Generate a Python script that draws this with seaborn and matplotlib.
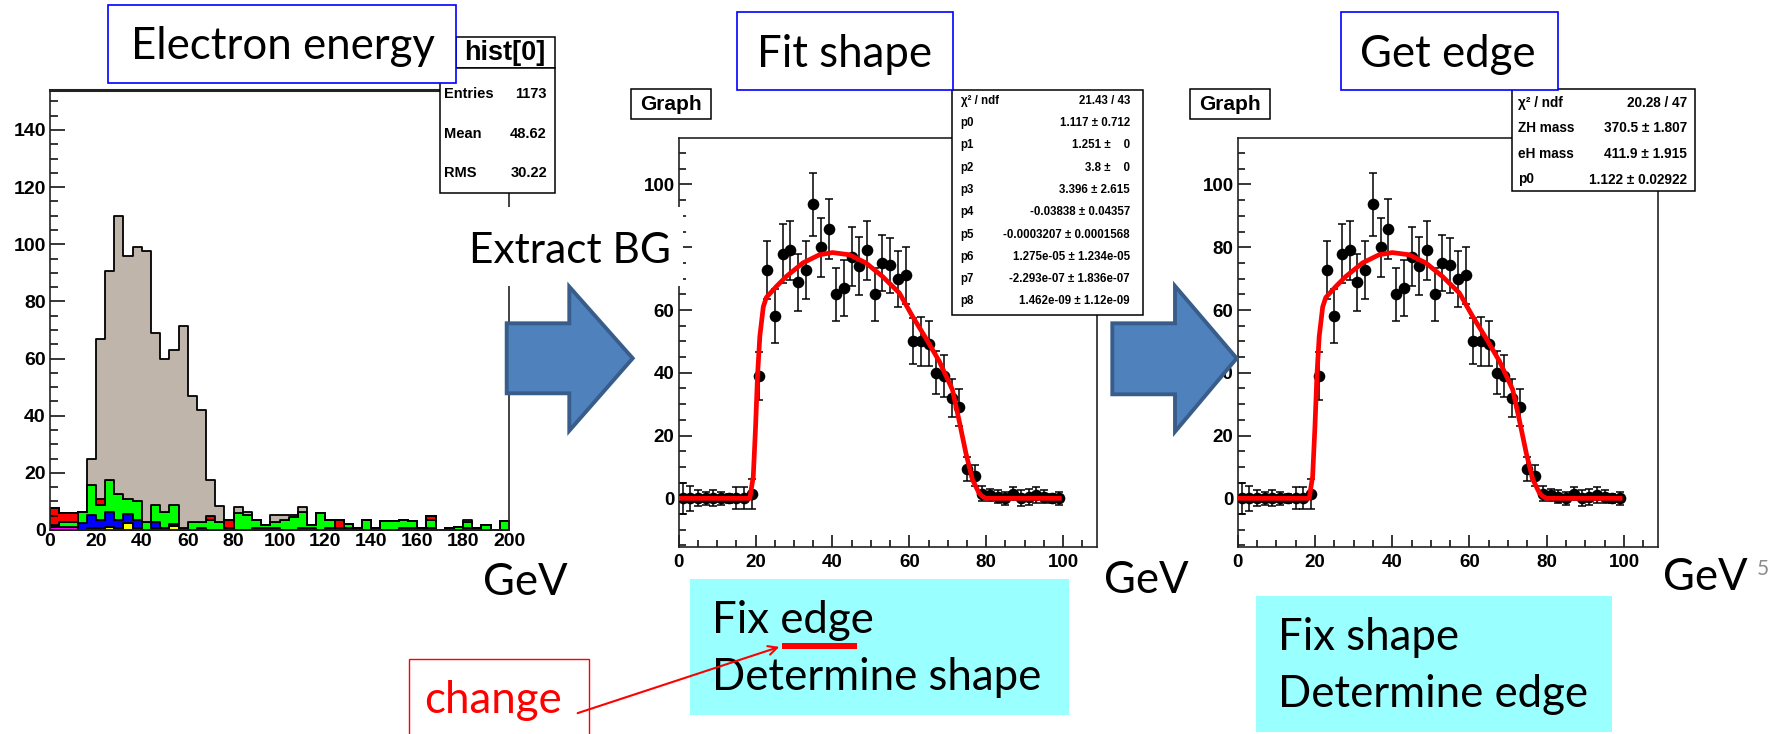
import numpy as np
import pandas as pd
import matplotlib
matplotlib.use("Agg")
import matplotlib.pyplot as plt
from matplotlib.patches import Rectangle, Polygon, FancyArrowPatch
from matplotlib.ticker import MultipleLocator
import seaborn as sns

# ---------------- data ----------------
# left histogram: counts per 4 GeV bin, 0-200 GeV
bin_edges = list(range(0, 204, 4))
signal = [0, 0, 0, 0, 8.8, 56.1, 72.9, 97.5, 85, 89,
          94.7, 60.4, 53.6, 54.2, 70.7, 44.1, 39.1, 12.6, 5.5, 0,
          2.2, 1.2, 0, 0, 2.4, 1.8, 0.8, 1.8, 0, 0,
          0, 0, 0, 0, 0, 0, 0, 0, 0, 0,
          0, 0, 0, 0, 0, 0.8, 0, 0, 0, 0]
bg_red = [5.9, 3.0, 3.0, 0, 0, 1.9, 0, 0, 0, 0,
          0, 0, 0, 0, 0.8, 0, 0, 1.4, 0, 2.6,
          0, 0, 0, 0, 0, 0, 0, 0, 0, 0,
          0, 2.6, 0, 0, 0, 0.7, 0, 0, 0, 0,
          0, 1.2, 0, 0, 0, 0, 0.7, 0, 0, 0]
bg_green = [0, 1.6, 1.6, 3.8, 10.6, 5.4, 11.2, 9.1, 5.4, 6.6,
            2.8, 5.8, 5.6, 6.6, 0, 2.9, 2.1, 3.4, 2.9, 0,
            5.8, 5.2, 2.9, 0.8, 2.0, 3.4, 4.4, 5.6, 0.8, 6.0,
            2.6, 0.8, 1.4, 0.7, 3.4, 0, 3.0, 3.0, 2.6, 2.2,
            0.7, 2.8, 0, 0.7, 1.2, 2.0, 0, 1.6, 0, 3.0]
bg_blue = [0, 0, 0, 2.6, 4.5, 2.6, 5.4, 2.6, 3.2, 2.6,
           0, 2.0, 0, 0, 0, 0, 0, 0, 0, 0,
           0, 0, 0, 0, 0, 0, 0, 0, 0, 0,
           0, 0, 0, 0, 0, 0, 0, 0, 0, 0,
           0, 0, 0, 0, 0, 0, 0, 0, 0, 0]
bg_navy = [0.7, 0, 0, 0, 0.8, 0, 0, 0.8, 0, 0,
           0, 0, 0, 0.8, 0, 0, 0, 0, 0, 0.8,
           0, 0, 0, 0.8, 0.8, 0, 0, 0, 0, 0,
           0, 0, 0, 0, 0, 0, 0, 0, 0, 0.8,
           0, 0.8, 0, 0, 0, 0, 0, 0, 0, 0]
bg_yellow = [0, 0, 0, 0, 0, 0, 1.0, 0, 2.4, 0.8,
             0, 0.8, 0, 1.4, 0, 0, 0.8, 0, 0, 0,
             0, 0, 0.7, 0, 0, 0, 0, 0.8, 0, 0,
             0.8, 0, 0.8, 0, 0, 0, 0, 0, 0, 0,
             0, 0, 0, 0, 0, 0.8, 0, 0, 0, 0]
bg_magenta = [1.0, 1.2, 1.2, 0, 0, 0.8, 0, 0, 0, 0,
              0, 0, 0.8, 0, 0, 0, 0, 0, 0, 0,
              0, 0, 0, 0, 0, 0, 0, 0, 0.8, 0,
              0, 0, 0, 0, 0, 0, 0, 0, 0.8, 0,
              0, 0, 0, 0, 0, 0, 0, 0, 0, 0]

# background-subtracted graph (same points in both fit panels)
graph_x = list(range(1, 100, 2))
graph_y = [0, 0, 0, 0, 0, 0, 0, 0, 0, 1.4,
           39, 72.8, 58, 78, 79, 68.8, 72.8, 93.7, 80, 85.8,
           65, 67, 77, 74, 79, 65, 75, 74.2, 70, 71,
           50, 50, 49.3, 40, 39, 32, 29, 9.3, 7.2, 1.5,
           1, 0.5, 0, 1.5, 0, 0.5, 1, 0.5, 0, 0]
graph_err = [5, 4, 2.5, 2, 2.5, 2, 1.5, 3.5, 3.5, 4.7,
             7.6, 9.2, 8.6, 9.4, 9.4, 9.1, 9.2, 10, 9.4, 9.7,
             8.4, 9, 9.4, 9.2, 9.4, 8.4, 9, 8.8, 8.9, 9,
             7.3, 7.7, 7.2, 6.9, 6.6, 6.1, 5.8, 3.8, 3.3, 2.5,
             2, 2, 2, 2, 2.5, 2.5, 2.5, 2, 1.5, 2]

# fit curve
fit_x = [0, 18.5, 19.4, 20, 20.5, 21.1, 22, 22.8, 25.4, 28, 32.3, 36.6, 40, 44.4,
         48.7, 53, 57.4, 60.8, 64.3, 67.8, 71.2, 72.9, 74.7, 76.4, 78.1, 79, 80, 99]
fit_y = [0, 0, 7, 23, 39, 51.6, 61, 64, 67.5, 70.7, 75, 77.6, 78.3, 77.6,
         75, 70.7, 65.4, 58, 51, 43.6, 34.6, 25, 14.4, 6, 1.7, 0.6, 0, 0]

graph_yticks = [0, 20, 40, 60, 80, 100]
# the "80" label of the middle panel sits under the "Extract BG" label on the slide
shape_ylabels = ["0", "20", "40", "60", "", "100"]
edge_ylabels = ["0", "20", "40", "60", "80", "100"]

hist_stats = [("Entries", "1173"), ("Mean", "48.62"), ("RMS", "30.22")]
shape_stats = [("χ² / ndf", "21.43 / 43"), ("p0", "1.117 ± 0.712"),
               ("p1", "1.251 ±    0"), ("p2", "3.8 ±    0"),
               ("p3", "3.396 ± 2.615"), ("p4", "-0.03838 ± 0.04357"),
               ("p5", "-0.0003207 ± 0.0001568"), ("p6", "1.275e-05 ± 1.234e-05"),
               ("p7", "-2.293e-07 ± 1.836e-07"), ("p8", "1.462e-09 ± 1.12e-09")]
edge_stats = [("χ² / ndf", "20.28 / 47"), ("ZH mass", "370.5 ± 1.807"),
              ("eH mass", "411.9 ± 1.915"), ("p0", "1.122 ± 0.02922")]

# ---------------- figure ----------------
W, H = 1777, 734
plt.rcParams["font.family"] = ["Liberation Sans", "DejaVu Sans"]
fig = plt.figure(figsize=(W / 100, H / 100), dpi=100)
fig.patch.set_facecolor("white")

BIG = ["Lato", "DejaVu Sans"]
BIG_SIZE = 31.5


def px(x, y):
    return x / W, 1 - y / H


def add_ax(left, top, right, bottom):
    return fig.add_axes([left / W, 1 - bottom / H, (right - left) / W, (bottom - top) / H])


def box(x0, y0, x1, y1, face="white", edge="black", lw=1.1, z=5):
    r = Rectangle(px(x0, y1), (x1 - x0) / W, (y1 - y0) / H, transform=fig.transFigure,
                  facecolor=face, edgecolor=edge, linewidth=lw, zorder=z)
    fig.add_artist(r)


def txt(x, y, s, **kw):
    kw.setdefault("zorder", 7)
    fig.text(*px(x, y), s, **kw)


def big(x, y, s, **kw):
    txt(x, y, s, fontsize=BIG_SIZE, family=BIG, va="baseline", **kw)


def root_frame(ax, major_len, minor_len):
    for sp in ax.spines.values():
        sp.set_linewidth(1.2)
        sp.set_color("#222222")
    ax.tick_params(which="both", direction="in", top=False, right=False, width=1.1)
    ax.tick_params(which="major", length=major_len, labelsize=13.5, pad=3)
    ax.tick_params(which="minor", length=minor_len)
    for lab in ax.get_xticklabels() + ax.get_yticklabels():
        lab.set_fontweight("bold")
    ax.set_xlabel("")
    ax.set_ylabel("")


# ---- left: stacked electron energy histogram ----
layers = [("signal", signal, "#BFB5AA"), ("red", bg_red, "#FF0000"),
          ("green", bg_green, "#00FF00"), ("blue", bg_blue, "#0000FF"),
          ("navy", bg_navy, "#4B4BB4"), ("yellow", bg_yellow, "#FFFF00"),
          ("magenta", bg_magenta, "#FF00FF")]
rows = []
for name, vals, _ in layers:
    for lo, v in zip(bin_edges[:-1], vals):
        rows.append({"energy": lo + 2, "count": v, "proc": name})
hist_df = pd.DataFrame(rows)

ax1 = add_ax(50, 90, 509, 530)
sns.histplot(data=hist_df, x="energy", weights="count", hue="proc",
             hue_order=[n for n, _, _ in layers],
             palette={n: c for n, _, c in layers},
             multiple="stack", bins=bin_edges, element="step", fill=True,
             alpha=1, edgecolor="black", linewidth=1.3, legend=False, ax=ax1)
ax1.set_xlim(0, 200)
ax1.set_ylim(0, 154)
ax1.set_xticks(range(0, 201, 20))
ax1.set_yticks(range(0, 141, 20))
ax1.yaxis.set_minor_locator(MultipleLocator(5))
root_frame(ax1, 11, 6)
ax1.tick_params(axis="x", which="both", length=0, pad=2, labelsize=14)
ax1.tick_params(axis="y", labelsize=14)
ax1.spines["top"].set_linewidth(2.2)

# ---- middle / right: graph + fit ----
def draw_graph(ax, ylabels):
    ax.errorbar(graph_x, graph_y, yerr=graph_err, fmt="none", ecolor="black",
                elinewidth=1.1, capsize=2.6, capthick=1.1, zorder=2)
    sns.scatterplot(x=graph_x, y=graph_y, color="black", s=70, linewidth=0,
                    ax=ax, zorder=3)
    sns.lineplot(x=fit_x, y=fit_y, color="red", linewidth=3.4, sort=False,
                 estimator=None, ax=ax, zorder=4)
    ax.set_xlim(0, 108.8)
    ax.set_ylim(-15.5, 114.8)
    ax.set_xticks(range(0, 101, 20))
    ax.set_yticks(graph_yticks)
    ax.set_yticklabels(ylabels)
    ax.xaxis.set_minor_locator(MultipleLocator(5))
    ax.yaxis.set_minor_locator(MultipleLocator(5))
    root_frame(ax, 9, 5)
    ax.tick_params(axis="x", pad=5)


ax2 = add_ax(678.7, 138, 1097, 547)
draw_graph(ax2, shape_ylabels)
ax3 = add_ax(1237.7, 138, 1658, 547)
draw_graph(ax3, edge_ylabels)

# ---- ROOT stat boxes ----
box(455.6, 37.3, 555, 68.3)
txt(505, 53, "hist[0]", fontsize=19.5, fontweight="bold", ha="center", va="center")
box(440, 68.3, 555, 193)
for i, (k, v) in enumerate(hist_stats):
    y = 94.3 + i * 39.2
    txt(444, y, k, fontsize=10.5, fontweight="bold", va="center")
    txt(547, y, v, fontsize=10.5, fontweight="bold", va="center", ha="right")

box(952, 90, 1143, 315)
for i, (k, v) in enumerate(shape_stats):
    y = 100.7 + i * 22.3
    txt(960.7, y, k, fontsize=8.3, fontweight="bold", va="center")
    txt(1130, y, v, fontsize=8.3, fontweight="bold", va="center", ha="right")

box(1511.7, 89, 1695, 191)
for i, (k, v) in enumerate(edge_stats):
    y = 102.7 + i * 25.6
    txt(1518, y, k, fontsize=9.8, fontweight="bold", va="center")
    txt(1687, y, v, fontsize=9.8, fontweight="bold", va="center", ha="right")

for gx in (631, 1189.7):
    box(gx, 89, gx + 80.3, 119)
    txt(gx + 40, 104.5, "Graph", fontsize=15, fontweight="bold", ha="center", va="center")

# ---- slide annotations ----
box(107.7, 5, 455.6, 82.7, edge="#0000FF", lw=1.2)
big(283, 59.3, "Electron energy", ha="center")
box(736.6, 12.3, 953, 90, edge="#0000FF", lw=1.2)
big(844.5, 66.7, "Fit shape", ha="center")
box(1340.6, 12.3, 1558, 90, edge="#0000FF", lw=1.2)
big(1448, 66.7, "Get edge", ha="center")

# white label covering the frames behind "Extract BG"
box(505, 207, 683, 286, edge="none", lw=0, z=4)
txt(469, 263.3, "Extract BG", fontsize=30.5, family=BIG, va="baseline")

arrow_fill, arrow_edge = "#4F81BD", "#385D8A"
for pts in ([(506.7, 323.3), (569.3, 323.3), (569.3, 286.7), (632.7, 358.3),
             (569.3, 430.7), (569.3, 393.3), (506.7, 393.3)],
            [(1112.3, 323.3), (1175, 323.3), (1175, 286), (1236.7, 358.3),
             (1175, 431.7), (1175, 394.3), (1112.3, 394.3)]):
    poly = Polygon([px(x, y) for x, y in pts], closed=True, transform=fig.transFigure,
                   facecolor=arrow_fill, edgecolor=arrow_edge, linewidth=2.8,
                   joinstyle="miter", zorder=6)
    fig.add_artist(poly)

big(483, 595, "GeV")
big(1103.5, 593, "GeV")
big(1663, 590, "GeV")
txt(1757, 575, "5", fontsize=15, family=BIG, va="baseline", color="#8C8C8C")

box(690, 579, 1069, 715, face="#99FFFF", edge="none", lw=0)
big(712, 633, "Fix edge")
big(712, 690, "Determine shape")
box(782, 643, 857, 649, face="#FF0000", edge="none", lw=0, z=6)

box(1256, 596, 1612, 732, face="#99FFFF", edge="none", lw=0)
big(1278, 650, "Fix shape")
big(1278, 707, "Determine edge")

box(409, 659, 589, 745, edge="#FF0000", lw=1.0)
big(424, 713, "change", color="#FF0000")
fig.add_artist(FancyArrowPatch(px(575, 714), px(782, 646), transform=fig.transFigure,
                               arrowstyle="->", mutation_scale=16, color="#FF0000",
                               linewidth=1.5, zorder=8))

fig.savefig("out.png", dpi=100)
